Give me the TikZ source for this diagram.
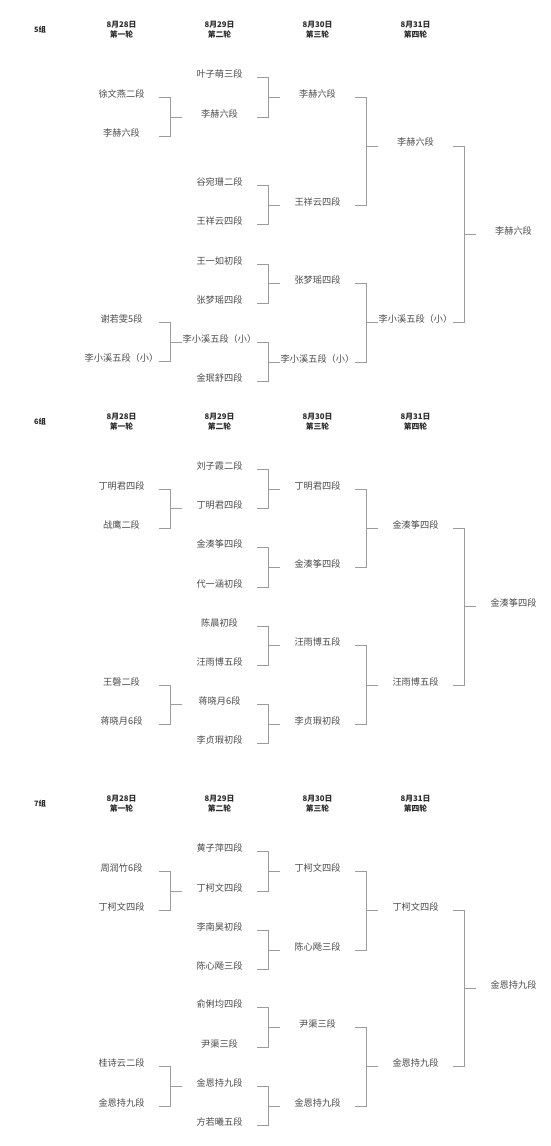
\documentclass[tikz,border=0pt]{standalone}
\usepackage{fontspec}
\setmainfont{Noto Sans CJK SC}
\usepackage{xcolor}
\usepackage{tikz}
\usetikzlibrary{positioning,calc}

\definecolor{nametext}{HTML}{4A4A4A}
\definecolor{headtext}{HTML}{2A2A2A}
\definecolor{bracketgray}{HTML}{9C9C9C}

\begin{document}
\begin{tikzpicture}[
    x=1pt, y=-1pt,
    player/.style={inner sep=0pt, minimum width=75pt, text height=8pt, text depth=1.2pt, text=nametext, font=\fontsize{9.2}{11}\selectfont},
    hdr/.style={inner sep=0pt, align=center, text=headtext, font=\fontsize{7.8}{10}\selectfont\bfseries},
    grp/.style={inner sep=0pt, text=headtext, font=\fontsize{7.4}{9}\selectfont\bfseries},
    bline/.style={draw=bracketgray, line width=0.7pt}
]
\useasboundingbox (0,0) rectangle (550,1146);
% ----- headers -----
\foreach \g/\y in {5/30,6/421.7,7/804} {
  \node[grp] (g\g) at (40,\y) {{\g}组};
  \foreach \d/\r [count=\i] in {28/一,29/二,30/三,31/四}
    \node[hdr] (g\g h\i) at ({121.5+98*(\i-1)},\y) {8月{\d}日\\第{\r}轮};
}
% ----- 5组 -----
\node[player] (g5a1) at (121.5,94.3)  {徐文燕二段};
\node[player] (g5a2) at (121.5,132.7) {李赫六段};
\node[player] (g5a3) at (121.5,319.3) {谢若雯5段};
\node[player] (g5a4) at (121.5,358.3) {李小溪五段（小）};
\node[player] (g5b1) at (219.5,74.3)  {叶子萌三段};
\node[player] (g5b2) at (219.5,113.7) {李赫六段};
\node[player] (g5b3) at (219.5,182.3) {谷宛珊二段};
\node[player] (g5b4) at (219.5,221)   {王祥云四段};
\node[player] (g5b5) at (219.5,260.7) {王一如初段};
\node[player] (g5b6) at (219.5,300)   {张梦瑶四段};
\node[player] (g5b7) at (219.5,339.3) {李小溪五段（小）};
\node[player] (g5b8) at (219.5,378.3) {金珉舒四段};
\node[player] (g5c1) at (317.5,94.3)  {李赫六段};
\node[player] (g5c2) at (317.5,201.7) {王祥云四段};
\node[player] (g5c3) at (317.5,280)   {张梦瑶四段};
\node[player] (g5c4) at (317.5,358.6) {李小溪五段（小）};
\node[player] (g5d1) at (415.5,142.5) {李赫六段};
\node[player] (g5d2) at (415.5,319.3) {李小溪五段（小）};
\node[player] (g5e1) at (513.5,230.7) {李赫六段};
% ----- 6组 -----
\node[player] (g6a1) at (121.5,486)   {丁明君四段};
\node[player] (g6a2) at (121.5,525)   {战鹰二段};
\node[player] (g6a3) at (121.5,681.7) {王磬二段};
\node[player] (g6a4) at (121.5,720.7) {蒋晓月6段};
\node[player] (g6b1) at (219.5,466)   {刘子霞二段};
\node[player] (g6b2) at (219.5,505.3) {丁明君四段};
\node[player] (g6b3) at (219.5,544.3) {金湊筝四段};
\node[player] (g6b4) at (219.5,584)   {代一涵初段};
\node[player] (g6b5) at (219.5,622.7) {陈晨初段};
\node[player] (g6b6) at (219.5,662.3) {汪雨博五段};
\node[player] (g6b7) at (219.5,701)   {蒋晓月6段};
\node[player] (g6b8) at (219.5,740)   {李贞瑕初段};
\node[player] (g6c1) at (317.5,486)   {丁明君四段};
\node[player] (g6c2) at (317.5,564)   {金湊筝四段};
\node[player] (g6c3) at (317.5,642.3) {汪雨博五段};
\node[player] (g6c4) at (317.5,720.7) {李贞瑕初段};
\node[player] (g6d1) at (415.5,525)   {金湊筝四段};
\node[player] (g6d2) at (415.5,681.7) {汪雨博五段};
\node[player] (g6e1) at (513.5,603.3) {金湊筝四段};
% ----- 7组 -----
\node[player] (g7a1) at (121.5,868.3)  {周润竹6段};
\node[player] (g7a2) at (121.5,906.7)  {丁柯文四段};
\node[player] (g7a3) at (121.5,1063.3) {桂诗云二段};
\node[player] (g7a4) at (121.5,1102.7) {金恩持九段};
\node[player] (g7b1) at (219.5,848.3)  {黄子萍四段};
\node[player] (g7b2) at (219.5,887.7)  {丁柯文四段};
\node[player] (g7b3) at (219.5,926.7)  {李南昊初段};
\node[player] (g7b4) at (219.5,966)    {陈心飏三段};
\node[player] (g7b5) at (219.5,1004.3) {俞俐均四段};
\node[player] (g7b6) at (219.5,1044)   {尹渠三段};
\node[player] (g7b7) at (219.5,1082.7) {金恩持九段};
\node[player] (g7b8) at (219.5,1122.3) {方若曦五段};
\node[player] (g7c1) at (317.5,868.3)  {丁柯文四段};
\node[player] (g7c2) at (317.5,946.7)  {陈心飏三段};
\node[player] (g7c3) at (317.5,1024)   {尹渠三段};
\node[player] (g7c4) at (317.5,1102.7) {金恩持九段};
\node[player] (g7d1) at (415.5,906.7)  {丁柯文四段};
\node[player] (g7d2) at (415.5,1063.3) {金恩持九段};
\node[player] (g7e1) at (513.5,985)    {金恩持九段};
% ----- brackets -----
\foreach \g in {5,6,7} {
  \foreach \a/\b/\w in {a1/a2/b2,a3/a4/b7,b1/b2/c1,b3/b4/c2,b5/b6/c3,b7/b8/c4,c1/c2/d1,c3/c4/d2,d1/d2/e1} {
    \draw[bline] (g\g\a.base east) -- ++(11.5,0) |- (g\g\w.base west);
    \draw[bline] (g\g\b.base east) -- ++(11.5,0) |- (g\g\w.base west);
  }
}
\end{tikzpicture}
\end{document}
